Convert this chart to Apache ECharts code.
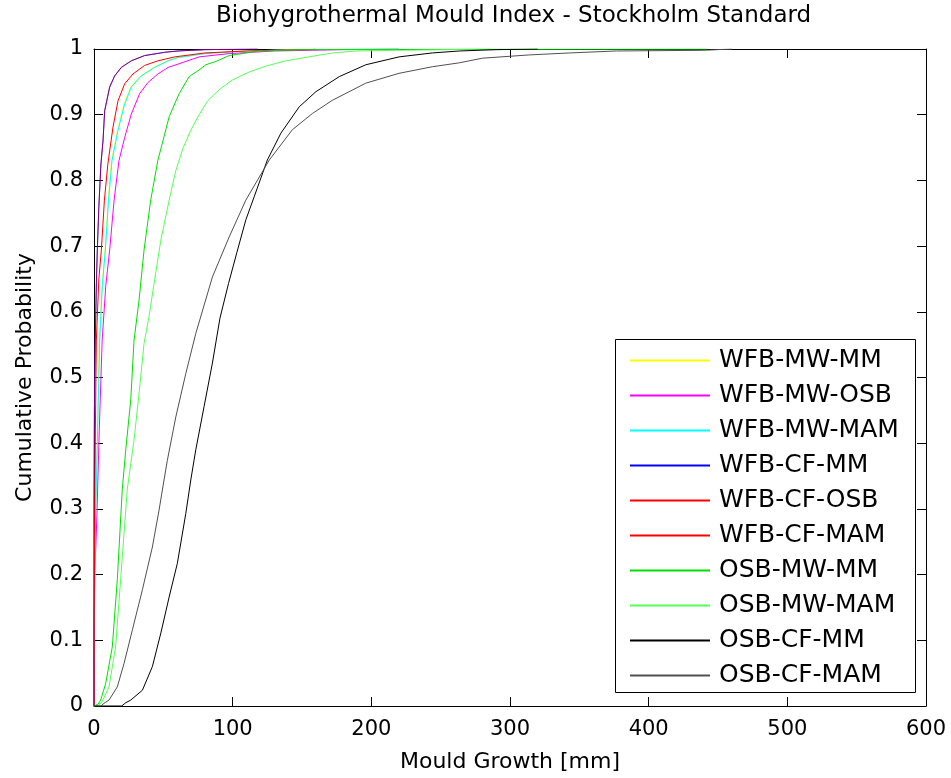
<!DOCTYPE html>
<html>
<head>
<meta charset="utf-8">
<script src="https://cdn.jsdelivr.net/npm/echarts@6/dist/echarts.min.js"></script>
<style>
html,body{margin:0;padding:0;background:#fff;}
#chart{width:951px;height:778px;}
</style>
</head>
<body>
<div id="chart"></div>
<script>
// Categories / names
var seriesNames = ['WFB-MW-MM','WFB-MW-OSB','WFB-MW-MAM','WFB-CF-MM','WFB-CF-OSB','WFB-CF-MAM','OSB-MW-MM','OSB-MW-MAM','OSB-CF-MM','OSB-CF-MAM'];
var seriesColors = ['#ffff00','#ff00ff','#00ffff','#0000ff','#ff0000','#ff0000','#00e000','#55ff55','#000000','#505050'];

var xTickValues = [0,100,200,300,400,500,600];
var yTickLabels = ['0','0.1','0.2','0.3','0.4','0.5','0.6','0.7','0.8','0.9','1'];

// [Mould growth (mm), cumulative probability]
var wfbMwMm = [[0,0],[0,0.05],[0.3,0.13],[1.05,0.283],[2.5,0.42],[4.0,0.557],[5.9,0.64],[8.0,0.694],[10.3,0.77],[12.7,0.83],[17,0.876],[21.7,0.916],[26.4,0.942],[33.6,0.959],[43.2,0.972],[52.8,0.982],[60,0.987],[79,0.993],[109,0.997],[149,0.999],[218,1]];
var wfbMwOsb = [[0,0],[0,0.1],[0.5,0.2],[2.0,0.283],[3.8,0.42],[5.9,0.557],[8.5,0.64],[11.3,0.694],[14.5,0.77],[18,0.83],[22.1,0.865],[26.9,0.901],[32.9,0.932],[38.9,0.949],[46.1,0.962],[53.4,0.972],[60.6,0.977],[75.8,0.988],[97.5,0.993],[130,0.997],[180,0.999],[220,1]];
var wfbMwMam = [[0,0],[0,0.06],[0.3,0.13],[1.1,0.283],[2.6,0.42],[4.1,0.557],[6,0.64],[8.2,0.694],[10.5,0.77],[13,0.83],[17.3,0.876],[22.1,0.916],[26.9,0.942],[34.1,0.959],[43.8,0.972],[53.4,0.982],[60.6,0.987],[80,0.993],[110,0.997],[150,0.999],[220,1]];
var wfbCfMm = [[0,0],[0,0.3],[0.3,0.45],[0.9,0.557],[1.8,0.65],[2.4,0.694],[3.5,0.76],[5,0.825],[6.5,0.86],[7.7,0.906],[11.3,0.942],[14.9,0.959],[19.7,0.972],[26.9,0.982],[36.5,0.99],[51,0.995],[60.6,0.997],[80,0.999],[118,1]];
var wfbCfOsb = [[0,0],[0,0.05],[0.2,0.2],[0.5,0.283],[1.0,0.42],[1.7,0.557],[3.5,0.65],[5.3,0.694],[7.5,0.77],[10,0.825],[13.7,0.881],[17.3,0.921],[22.1,0.947],[28.1,0.962],[36.5,0.975],[46.1,0.982],[58.2,0.988],[80,0.994],[110,0.997],[155,0.999],[160,1]];
var wfbCfMam = [[0,0],[0,0.3],[0.3,0.45],[0.9,0.557],[1.8,0.65],[2.4,0.694],[3.5,0.76],[5,0.825],[6.5,0.86],[7.7,0.906],[11.3,0.942],[14.9,0.959],[19.7,0.972],[26.9,0.982],[36.5,0.99],[51,0.995],[60.6,0.997],[80,0.999],[118,1]];
var osbMwMm = [[0,0],[3,0.003],[4.8,0.009],[8.4,0.034],[13.2,0.09],[16.8,0.192],[20.4,0.33],[22.9,0.39],[26.5,0.466],[28.9,0.557],[32.5,0.618],[36.1,0.694],[40.9,0.77],[46,0.83],[54.2,0.897],[61.4,0.932],[68.6,0.958],[75.8,0.968],[80.6,0.976],[87.9,0.981],[97.5,0.99],[119,0.997],[150,0.999],[200,0.9995],[442,1]];
var osbMwMam = [[0,0],[4,0.002],[6,0.007],[10.8,0.029],[15.6,0.09],[19.2,0.192],[24,0.33],[28.9,0.405],[32.5,0.476],[36.1,0.552],[39.7,0.593],[43.3,0.643],[48.2,0.709],[54.2,0.77],[59,0.815],[64,0.848],[69.5,0.875],[75.8,0.9],[82.3,0.922],[90.3,0.938],[99.9,0.953],[112,0.965],[124,0.974],[138.4,0.982],[155,0.988],[172,0.994],[189,0.997],[218,0.998],[286,1]];
var osbCfMm = [[0,0],[20,0],[22.9,0.005],[26.5,0.009],[34.9,0.024],[42.1,0.06],[48.2,0.111],[54.2,0.166],[60.1,0.217],[66.2,0.293],[69.8,0.344],[73.4,0.39],[79.4,0.456],[85.4,0.522],[90.8,0.59],[97,0.643],[103,0.69],[109.5,0.74],[115.5,0.775],[125,0.831],[134.8,0.872],[148,0.912],[160,0.935],[176.9,0.958],[196,0.976],[220,0.988],[244,0.994],[263.5,0.997],[290,0.999],[320,1]];
var osbCfMam = [[0,0],[5,0],[7.2,0.004],[10.8,0.009],[16.8,0.029],[21.7,0.065],[27.7,0.116],[34.9,0.177],[42.1,0.242],[46.9,0.298],[50.5,0.344],[52.9,0.374],[59,0.44],[66.2,0.506],[73.4,0.567],[85.4,0.653],[97.5,0.714],[109.5,0.77],[126.4,0.831],[143,0.877],[157.6,0.902],[172,0.922],[196,0.948],[220,0.963],[244,0.973],[263.5,0.979],[280,0.986],[314,0.991],[343,0.994],[376.7,0.997],[439,0.998],[460,1]];

var seriesData = [wfbMwMm, wfbMwOsb, wfbMwMam, wfbCfMm, wfbCfOsb, wfbCfMam, osbMwMm, osbMwMam, osbCfMm, osbCfMam];
var seriesOpacity = [1,1,1,1,1,0.5,1,1,1,1];

var FONT = 'DejaVu Sans';
var chart = echarts.init(document.getElementById('chart'), null, {renderer:'canvas'});

var series = seriesNames.map(function(n,i){
  return {
    name: n, type: 'line', data: seriesData[i], showSymbol: false, symbol: 'none',
    xAxisIndex: 0, yAxisIndex: 0,
    lineStyle: {color: seriesColors[i], width: 1, opacity: seriesOpacity[i]},
    itemStyle: {color: seriesColors[i]},
    emphasis: {disabled: true}, animation: false, z: 2 + i*0.01
  };
});

var option = {
  backgroundColor: '#ffffff',
  animation: false,
  title: {
    text: 'Biohygrothermal Mould Index - Stockholm Standard',
    left: 216, top: 5, padding: 0,
    textStyle: {fontFamily: FONT, fontSize: 23, fontWeight: 'normal', color: '#000'}
  },
  grid: {left: 94, right: 25, top: 49, bottom: 72, show: false},
  xAxis: [{
    type: 'value', min: 0, max: 600, interval: 100, position: 'bottom',
    name: 'Mould Growth [mm]', nameLocation: 'middle', nameGap: 45,
    nameTextStyle: {fontFamily: FONT, fontSize: 22, color: '#000'},
    axisLine: {show: true, lineStyle: {color: '#000', width: 1}},
    axisTick: {show: true, inside: true, length: 9, lineStyle: {color: '#000'}},
    axisLabel: {show: true, margin: 13, fontFamily: FONT, fontSize: 21, color: '#000',
      formatter: function(v){ return xTickValues.indexOf(v) >= 0 ? String(v) : ''; }},
    splitLine: {show: false}
  },{
    type: 'value', min: 0, max: 600, interval: 100, position: 'top',
    axisLine: {show: true, onZero: false, lineStyle: {color: '#000', width: 1}},
    axisTick: {show: true, inside: true, length: 9, lineStyle: {color: '#000'}},
    axisLabel: {show: false}, splitLine: {show: false}
  }],
  yAxis: [{
    type: 'value', min: 0, max: 1, interval: 0.1, position: 'left',
    name: 'Cumulative Probability', nameLocation: 'middle', nameGap: 58,
    nameTextStyle: {fontFamily: FONT, fontSize: 22, color: '#000'},
    axisLine: {show: true, lineStyle: {color: '#000', width: 1}},
    axisTick: {show: true, inside: true, length: 9, lineStyle: {color: '#000'}},
    axisLabel: {show: true, margin: 11, fontFamily: FONT, fontSize: 21, color: '#000',
      formatter: function(v){ return yTickLabels[Math.round(v*10)]; }},
    splitLine: {show: false}
  },{
    type: 'value', min: 0, max: 1, interval: 0.1, position: 'right',
    axisLine: {show: true, onZero: false, lineStyle: {color: '#000', width: 1}},
    axisTick: {show: true, inside: true, length: 9, lineStyle: {color: '#000'}},
    axisLabel: {show: false}, splitLine: {show: false}
  }],
  graphic: [{
    type: 'rect', z: 3,
    shape: {x: 615.5, y: 339.5, width: 300, height: 353},
    style: {fill: '#fff', stroke: '#000', lineWidth: 1}
  }],
  legend: {
    orient: 'vertical', left: 630, top: 348, padding: 0, z: 5,
    icon: 'rect', itemWidth: 80, itemHeight: 2, itemGap: 10,
    data: seriesNames.map(function(n,i){ return {name: n, itemStyle: {color: seriesColors[i], opacity: 1}}; }),
    textStyle: {fontFamily: FONT, fontSize: 25, color: '#000', lineHeight: 24.7, padding: [0,0,0,4]},
    selectedMode: false
  },
  series: series
};
chart.setOption(option);
</script>
</body>
</html>
